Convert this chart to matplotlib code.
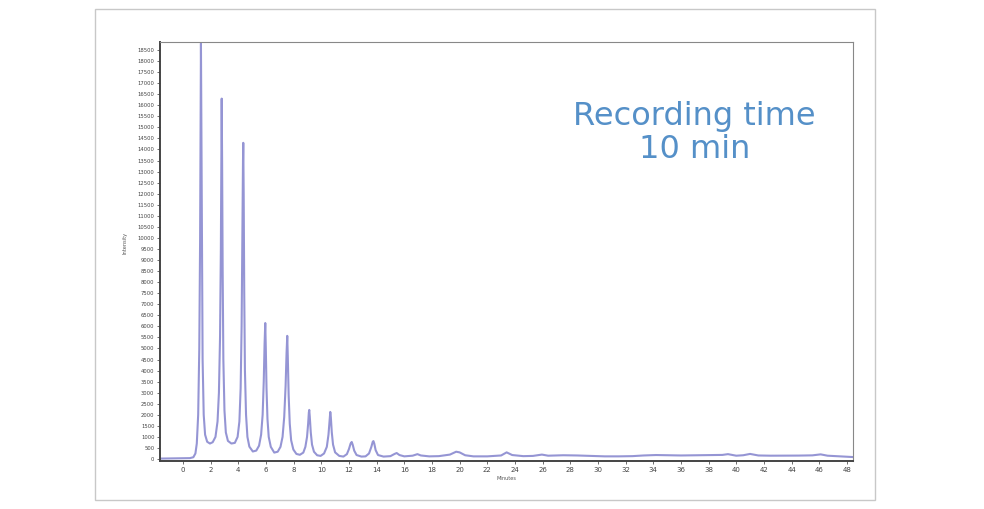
import matplotlib
matplotlib.use("Agg")
import matplotlib.pyplot as plt
from matplotlib.patches import Rectangle

# Chromatogram trace (minutes, intensity)
time_min = [-1.6, -1.0, 0.0, 0.5, 0.75, 0.9, 1.0, 1.1, 1.18, 1.24, 1.28, 1.30, 1.33, 1.37, 1.42, 1.5, 1.6, 1.75, 1.95,
            2.15, 2.35, 2.5, 2.6, 2.68, 2.74, 2.78, 2.80, 2.83, 2.87, 2.92, 3.0, 3.1, 3.25, 3.5, 3.75, 3.95,
            4.08, 4.17, 4.24, 4.30, 4.34, 4.36, 4.39, 4.43, 4.48, 4.56, 4.66, 4.8, 5.05, 5.3, 5.5, 5.65,
            5.76, 5.84, 5.9, 5.95, 5.99, 6.04, 6.11, 6.2, 6.35, 6.6, 6.85, 7.05, 7.2, 7.32, 7.42, 7.49,
            7.54, 7.58, 7.64, 7.72, 7.82, 7.98, 8.2, 8.45, 8.7, 8.85, 8.97, 9.05, 9.1, 9.13, 9.17, 9.24,
            9.33, 9.47, 9.7, 9.95, 10.2, 10.4, 10.52, 10.6, 10.65, 10.69, 10.76, 10.85, 11.0, 11.3, 11.6,
            11.85, 12.0, 12.12, 12.2, 12.27, 12.38, 12.55, 12.9, 13.2, 13.45, 13.62, 13.72, 13.77, 13.83,
            13.93, 14.1, 14.5, 15.0, 15.3, 15.45, 15.65, 16.0, 16.6, 16.95, 17.2, 17.8, 18.5, 19.3, 19.75,
            20.0, 20.4, 21.0, 22.0, 23.0, 23.4, 23.8, 24.6, 25.3, 25.95, 26.4, 27.5, 28.5, 29.5, 30.5,
            31.5, 32.5, 33.3, 34.2, 35.0, 36.0, 37.0, 38.0, 39.0, 39.4, 40.0, 40.5, 41.0, 41.6, 42.5,
            43.5, 44.5, 45.5, 46.1, 46.6, 47.5, 48.4]
intensity = [20, 25, 30, 40, 80, 250, 700, 2000, 5000, 10000, 15500, 18800, 15000, 9000, 4500, 2000, 1100, 780, 700,
             760, 1000, 1700, 3000, 5500, 9500, 14000, 16300, 13500, 8500, 4500, 2200, 1200, 820, 700, 730, 1000,
             1700, 3200, 6000, 10500, 13500, 14300, 12000, 7500, 4000, 2000, 1000, 560, 340, 380, 600, 1100,
             2000, 3500, 5200, 6150, 5000, 3200, 1800, 1000, 550, 290, 330, 550, 1000, 1900, 3300, 4800,
             5570, 4600, 2900, 1600, 850, 430, 230, 190, 290, 550, 1000, 1600, 2100, 2220, 1900, 1200,
             650, 330, 170, 140, 250, 550, 1100, 1750, 2130, 1900, 1200, 650, 300, 140, 110,
             220, 450, 700, 770, 650, 380, 180, 110, 120, 250, 550, 780, 810, 700,
             400, 180, 110, 130, 230, 270, 180, 120, 150, 220, 160, 120, 130, 200, 330,
             300, 170, 120, 120, 160, 300, 180, 130, 140, 200, 150, 170, 160, 140, 120,
             120, 130, 160, 180, 170, 160, 170, 175, 185, 220, 150, 170, 230, 160, 150,
             150, 155, 165, 210, 150, 120, 90]

x_ticks = list(range(0, 49, 2))
y_ticks = list(range(0, 18501, 500))

fig = plt.figure(figsize=(9.84, 5.09), dpi=100)
fig.patch.set_facecolor("white")

# outer frame
fig.add_artist(Rectangle((95 / 984, 1 - 500 / 509), 780 / 984, 491 / 509, transform=fig.transFigure,
                         fill=False, edgecolor="#c8c8c8", linewidth=1.0))

ax = fig.add_axes([160 / 984, 1 - 461 / 509, 693 / 984, 419 / 509])
ax.plot(time_min, intensity, color="#8a8ad0", linewidth=1.5, alpha=0.9)
ax.set_xlim(-1.66, 48.44)
ax.set_ylim(-90, 18860)

ax.set_xticks(x_ticks)
ax.set_xticklabels([str(v) for v in x_ticks], fontsize=5, color="#444444")
ax.set_yticks(y_ticks)
ax.set_yticklabels([str(v) for v in y_ticks], fontsize=3.8, color="#444444")
ax.tick_params(axis="both", length=2, width=0.6, color="#555555", pad=2)

for side in ["top", "right"]:
    ax.spines[side].set_color("#888888")
    ax.spines[side].set_linewidth(0.8)
for side in ["left", "bottom"]:
    ax.spines[side].set_color("#444444")
    ax.spines[side].set_linewidth(1.4)

ax.set_xlabel("Minutes", fontsize=3.6, color="#555555")
ax.xaxis.set_label_coords(0.50, -0.035)
ax.set_ylabel("Intensity", fontsize=3.6, color="#555555")
ax.yaxis.set_label_coords(-0.047, 0.52)

fig.text(694.5 / 984, 1 - 125 / 509, "Recording time", ha="center", va="baseline",
         fontsize=23, color="#5590c8", family="DejaVu Sans")
fig.text(695 / 984, 1 - 158 / 509, "10 min", ha="center", va="baseline",
         fontsize=23, color="#5590c8", family="DejaVu Sans")

fig.savefig("out.png", dpi=100)
